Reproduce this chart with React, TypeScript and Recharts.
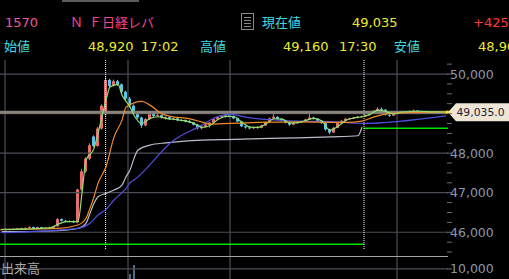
import React from 'react';
import { ComposedChart, Bar, Line, XAxis, YAxis, ReferenceLine } from 'recharts';

// one candle per slot: [open, high, low, close]
const ohlc: [number, number, number, number][] = [
  [46060, 46090, 46040, 46075], [46075, 46095, 46050, 46060], [46060, 46085, 46045, 46080], [46080, 46100, 46060, 46070],
  [46070, 46110, 46060, 46100], [46100, 46115, 46070, 46080], [46080, 46120, 46070, 46110], [46110, 46150, 46100, 46135],
  [46135, 46140, 46090, 46100], [46100, 46140, 46090, 46130], [46130, 46135, 46080, 46095], [46095, 46130, 46085, 46120],
  [46120, 46140, 46100, 46110], [46110, 46160, 46100, 46150], [46150, 46360, 46140, 46330], [46330, 46350, 46270, 46290],
  [46290, 46310, 46250, 46270], [46270, 46300, 46250, 46285], [46285, 46300, 46240, 46250], [46250, 47100, 46230, 47080],
  [47080, 47600, 47050, 47540], [47540, 47900, 47500, 47860], [47860, 48250, 47820, 48200], [48420, 48450, 48150, 48180],
  [48180, 48660, 48160, 48620], [48620, 49230, 48600, 49200], [48980, 49920, 48950, 49850], [49850, 49880, 49660, 49700],
  [49700, 49860, 49690, 49820], [49820, 49850, 49700, 49740], [49740, 49760, 49520, 49550], [49550, 49580, 49340, 49380],
  [49380, 49420, 49150, 49200], [49200, 49230, 48980, 49020], [49020, 49060, 48860, 48900], [48900, 48920, 48640, 48700],
  [48700, 48890, 48680, 48860], [48860, 49010, 48840, 48990], [48990, 49000, 48900, 48940], [48940, 48990, 48910, 48960],
  [48960, 48970, 48880, 48900], [48900, 48930, 48850, 48910], [48910, 48920, 48840, 48860], [48860, 48900, 48830, 48880],
  [48880, 48890, 48810, 48830], [48830, 48860, 48800, 48840], [48840, 48850, 48780, 48800], [48800, 48830, 48760, 48780],
  [48780, 48790, 48700, 48720], [48720, 48740, 48600, 48630], [48630, 48690, 48600, 48670], [48670, 48740, 48650, 48720],
  [48720, 48790, 48650, 48770], [48770, 48880, 48750, 48860], [48860, 48930, 48840, 48910], [48910, 48960, 48890, 48930],
  [48930, 48990, 48900, 48960], [48960, 48990, 48920, 48940], [48940, 48950, 48860, 48880], [48880, 48900, 48780, 48800],
  [48800, 48820, 48660, 48680], [48680, 48700, 48620, 48650], [48650, 48680, 48600, 48630], [48630, 48670, 48610, 48660],
  [48660, 48680, 48620, 48640], [48640, 48720, 48630, 48700], [48700, 48800, 48690, 48790], [48790, 48900, 48780, 48880],
  [48880, 49020, 48860, 48920], [48920, 48930, 48850, 48870], [48870, 48880, 48800, 48820], [48820, 48840, 48750, 48770],
  [48770, 48780, 48690, 48720], [48720, 48780, 48710, 48760], [48760, 48800, 48740, 48790], [48790, 48820, 48760, 48800],
  [48800, 48870, 48790, 48850], [48850, 48990, 48840, 48900], [48900, 48920, 48850, 48870], [48870, 48880, 48800, 48820],
  [48820, 48830, 48740, 48760], [48760, 48770, 48570, 48600], [48600, 48620, 48480, 48520], [48520, 48660, 48510, 48640],
  [48640, 48770, 48630, 48760], [48760, 48840, 48740, 48820], [48820, 48890, 48800, 48870], [48870, 48900, 48850, 48880],
  [48880, 48920, 48860, 48900], [48900, 48940, 48880, 48920], [48920, 48950, 48900, 48930], [48930, 48980, 48910, 48960],
  [48960, 49020, 48950, 49000], [49000, 49090, 48990, 49070], [49070, 49160, 49050, 49120], [49120, 49150, 49080, 49100],
  [49100, 49110, 48950, 48970], [48970, 48990, 48920, 48950], [48950, 49020, 48940, 49010], [49010, 49060, 49000, 49040],
  [49040, 49070, 49020, 49050], [49050, 49060, 49020, 49040], [49040, 49080, 49030, 49060], [49060, 49100, 49050, 49080],
  [49080, 49090, 49040, 49060], [49060, 49070, 49030, 49040], [49040, 49070, 49030, 49050], [49050, 49060, 49030, 49040],
  [49040, 49060, 49030, 49045], [49045, 49050, 49020, 49030], [49030, 49050, 49020, 49040], [49040, 49050, 49025, 49035],
];

// moving averages, [slot, value]
const fastMa: [number, number][] = [
  [0, 46070], [6, 46080], [12, 46110], [14, 46200], [16, 46270], [19, 46270], [20, 46990], [21, 47820],
  [23, 48120], [24, 48500], [26, 49340], [27, 49670], [29, 49740], [30, 49470], [32, 49170], [33, 48960],
  [35, 48750], [37, 48880], [39, 48920], [41, 48880], [44, 48840], [47, 48790], [49, 48700], [50, 48650],
  [52, 48700], [54, 48850], [56, 48930], [58, 48920], [60, 48780], [62, 48660], [64, 48650], [66, 48740],
  [68, 48870], [70, 48860], [72, 48760], [74, 48770], [76, 48830], [78, 48880], [80, 48810], [82, 48580],
  [84, 48680], [86, 48830], [88, 48890], [90, 48920], [92, 48980], [94, 49090], [96, 49050], [98, 48990],
  [100, 49040], [104, 49060], [108, 49045], [111, 49040],
];
const midMa: [number, number][] = [
  [0, 46075], [14, 46100], [19, 46184], [21, 46353], [22, 46605], [23, 46898], [24, 47237], [26, 47656],
  [28, 48406], [30, 48835], [31, 49163], [35, 49307], [37, 49214], [40, 48994], [42, 48928], [47, 48868],
  [50, 48785], [52, 48734], [57, 48752], [64, 48777], [74, 48792], [86, 48777], [90, 48810], [93, 48918],
  [97, 49004], [102, 49029], [111, 49037],
];
const slowMa: [number, number][] = [
  [0, 45990], [19, 46100], [22, 46227], [24, 46436], [26, 46580], [28, 46815], [31, 47110], [32, 47252],
  [33, 47320], [43, 48330], [50, 48709], [53, 48886], [57, 48979], [62, 48890], [74, 48810], [82, 48797],
  [90, 48752], [111, 48944],
];
const vwap: [number, number][] = [
  [0, 46015], [12, 46032], [19, 46100], [21, 46227], [22, 46480], [23, 46732], [24, 46898], [26, 46984],
  [28, 47067], [30, 47193], [31, 47403], [32, 47572], [33, 47868], [34, 48078], [37, 48204], [41, 48262],
  [50, 48330], [58, 48348], [67, 48373], [74, 48388], [82, 48413], [89, 48440], [90, 48660],
];

const volumes: [number, number][] = [[32, 7000], [33, 12300]];

const priceTicks = [
  45500, 45750, 46000, 46250, 46500, 46750, 47000, 47250, 47500, 47750,
  48000, 48250, 48500, 48750, 49000, 49250, 49500, 49750, 50000, 50250,
];
const gridPrices = [46000, 47000, 48000, 49000, 50000];
const volumeTicks = [10000];

// time markers in slot units
const timeGrid = [0.75, 31.5, 57, 98.75];
const sessionBreaks = [25.9, 90.5];
const prevSessionLow = 45700;
const nightLow = 48630;

const openPrice = 48920;
const highPrice = 49160;
const lowPrice = 48900;
const prevClose = 48610;

const FONT = '"DejaVu Sans", "Noto Sans CJK JP", sans-serif';
const GRID = '#4d4d58';
const UP = '#e86c6e';
const DOWN = '#5cc6ea';
const PLOT_RIGHT = 448;
const X_DOMAIN: [number, number] = [-0.5, 111.5];

type Row = {
  i: number; open: number; close: number; range: [number, number];
  fast?: number; mid?: number; slow?: number; vwap?: number;
};
const rows: Row[] = ohlc.map(([open, high, low, close], i) => ({ i, open, close, range: [low, high] }));
const place = (pts: [number, number][], key: 'fast' | 'mid' | 'slow' | 'vwap') =>
  pts.forEach(([i, v]) => { rows[i][key] = v; });
place(fastMa, 'fast');
place(midMa, 'mid');
place(slowMa, 'slow');
place(vwap, 'vwap');

const volRows = volumes.map(([i, v]) => ({ i, v }));
const lastClose = ohlc[ohlc.length - 1][3];
const fmt = (v: number) => v.toLocaleString('en-US');

const Candle = (props: any) => {
  const { x, y, width, height, payload } = props;
  const [lo, hi] = payload.range;
  const top = Math.min(y, y + height);
  const h = Math.abs(height);
  const span = hi - lo || 1;
  const toY = (v: number) => top + ((hi - v) / span) * h;
  const color = payload.close >= payload.open ? UP : DOWN;
  const bTop = toY(Math.max(payload.open, payload.close));
  const bBot = toY(Math.min(payload.open, payload.close));
  const cx = x + width / 2;
  return (
    <g>
      <line x1={cx} x2={cx} y1={top} y2={top + h} stroke={color} strokeWidth={1} />
      <rect x={x} y={bTop} width={width} height={Math.max(1, bBot - bTop)} fill={color} />
    </g>
  );
};

const PriceTick = (props: any) => {
  const { y, payload } = props;
  const v = payload.value as number;
  const major = v % 1000 === 0 && v !== 49000;
  return (
    <g>
      <line x1={PLOT_RIGHT - 1} x2={PLOT_RIGHT + 4} y1={y} y2={y} stroke="#6e6e7a" />
      {major && (
        <text x={PLOT_RIGHT + 2} y={y + 4.5} fill="#8a99ad" fontSize={12.5} fontFamily={FONT}>
          {fmt(v)}
        </text>
      )}
    </g>
  );
};

// last-price tag hanging off the right edge of the plot
const PriceTag = (props: any) => {
  const vb = props.viewBox;
  const xr = vb.x + vb.width;
  const y = vb.y;
  return (
    <g>
      <path d={`M${xr},${y} L${xr + 8},${y - 9} L509,${y - 9} L509,${y + 9} L${xr + 8},${y + 9} Z`} fill="#efe5d4" />
      <rect x={xr - 2} y={y - 1.5} width={3} height={3} fill="#ffe020" />
      <text x={xr + 8.5} y={y + 4} fontSize={10.8} fill="#1c1c3c" fontFamily={FONT}>
        {lastClose.toLocaleString('en-US', { minimumFractionDigits: 1 })}
      </text>
    </g>
  );
};

const Header = () => {
  const change = lastClose - prevClose;
  return (
    <svg width={509} height={60} style={{ position: 'absolute', left: 0, top: 0, fontFamily: FONT }} fontSize={13}>
      <rect x={62} y={0} width={77} height={2} fill="#5c5c5c" />
      <text x={5} y={26.5} fill="#ec5a9c">1570</text>
      <text x={70} y={26.5} fill="#f2449b">Ｎ</text>
      <text x={89} y={26.5} fill="#f2449b">Ｆ日経レバ</text>
      <rect x={241.5} y={13.5} width={12} height={16} fill="none" stroke="#8a8a8a" />
      {[17.5, 20.5, 23.5, 26.5].map((ly) => (
        <line key={ly} x1={244} x2={251} y1={ly} y2={ly} stroke="#8a8a8a" />
      ))}
      <text x={262} y={26.5} fill="#3fd8e2">現在値</text>
      <text x={352} y={26.5} fill="#ecec2c">{fmt(lastClose)}</text>
      <text x={473} y={26.5} fill="#ff3a3a">{(change >= 0 ? '+' : '') + fmt(change)}</text>
      <text x={4} y={51} fill="#3fd8e2">始値</text>
      <text x={88} y={51} fill="#ecec2c">{fmt(openPrice)}</text>
      <text x={141} y={51} fill="#ecec2c">17:02</text>
      <text x={200} y={51} fill="#3fd8e2">高値</text>
      <text x={283} y={51} fill="#ecec2c">{fmt(highPrice)}</text>
      <text x={339} y={51} fill="#ecec2c">17:30</text>
      <text x={394} y={51} fill="#3fd8e2">安値</text>
      <text x={478} y={51} fill="#ecec2c">{fmt(lowPrice)}</text>
    </svg>
  );
};

export default function App() {
  return (
    <div style={{ position: 'fixed', left: 0, top: 0, width: 509, height: 279, background: '#000', overflow: 'hidden' }}>
      <Header />
      <div style={{ position: 'absolute', left: 0, top: 60 }}>
        <ComposedChart width={509} height={196} data={rows} margin={{ top: 0, right: 0, bottom: 0, left: 0 }}>
          <XAxis type="number" dataKey="i" domain={X_DOMAIN} hide allowDataOverflow />
          <YAxis
            orientation="right"
            domain={[45400, 50355]}
            ticks={priceTicks}
            interval={0}
            width={61}
            axisLine={false}
            tickLine={false}
            tickSize={0}
            tickMargin={0}
            tick={<PriceTick />}
            allowDataOverflow
          />
          {gridPrices.map((p) => (
            <ReferenceLine key={p} y={p} stroke={GRID} strokeWidth={1.2} />
          ))}
          {timeGrid.map((t) => (
            <ReferenceLine key={t} x={t} stroke={GRID} strokeWidth={1.2} />
          ))}
          <ReferenceLine segment={[{ x: X_DOMAIN[0], y: prevSessionLow }, { x: sessionBreaks[1], y: prevSessionLow }]} stroke="#00e600" strokeWidth={1.5} />
          <ReferenceLine segment={[{ x: sessionBreaks[1], y: nightLow }, { x: X_DOMAIN[1], y: nightLow }]} stroke="#00e600" strokeWidth={1.5} />
          {sessionBreaks.map((t) => (
            <ReferenceLine key={t} segment={[{ x: t, y: 50355 }, { x: t, y: 45550 }]} stroke="#ffffff" strokeDasharray="1 1" />
          ))}
          <ReferenceLine y={lastClose} stroke="#8a847c" strokeWidth={3} label={(p: any) => <PriceTag {...p} />} />
          <Bar dataKey="range" barSize={3} shape={<Candle />} isAnimationActive={false} />
          <Line dataKey="vwap" type="monotone" stroke="#b9bdc8" strokeWidth={1.2} dot={false} activeDot={false} connectNulls isAnimationActive={false} />
          <Line dataKey="slow" type="monotone" stroke="#4e4edc" strokeWidth={1.2} dot={false} activeDot={false} connectNulls isAnimationActive={false} />
          <Line dataKey="mid" type="monotone" stroke="#f08a26" strokeWidth={1.2} dot={false} activeDot={false} connectNulls isAnimationActive={false} />
          <Line dataKey="fast" type="monotone" stroke="#8ee06c" strokeWidth={1.2} dot={false} activeDot={false} connectNulls isAnimationActive={false} />
        </ComposedChart>
      </div>
      <div style={{ position: 'absolute', left: 0, top: 256, width: PLOT_RIGHT, height: 1, background: '#a4a4a4' }} />
      <div style={{ position: 'absolute', left: 0, top: 257 }}>
        <ComposedChart width={509} height={29} data={volRows} margin={{ top: 0, right: 0, bottom: 0, left: 0 }}>
          <XAxis type="number" dataKey="i" domain={X_DOMAIN} hide allowDataOverflow />
          <YAxis
            orientation="right"
            domain={[0, 17000]}
            ticks={volumeTicks}
            interval={0}
            width={61}
            axisLine={false}
            tickLine={false}
            tickSize={0}
            tickMargin={0}
            tick={(p: any) => (
              <g>
                <line x1={PLOT_RIGHT - 1} x2={PLOT_RIGHT + 4} y1={p.y} y2={p.y} stroke="#6e6e7a" />
                <text x={PLOT_RIGHT + 2} y={p.y + 4.5} fill="#8a99ad" fontSize={12.5} fontFamily={FONT}>
                  {fmt(p.payload.value)}
                </text>
              </g>
            )}
            allowDataOverflow
          />
          <ReferenceLine y={volumeTicks[0]} stroke={GRID} strokeWidth={1.2} />
          {timeGrid.map((t) => (
            <ReferenceLine key={t} x={t} stroke={GRID} strokeWidth={1.2} />
          ))}
          <Bar dataKey="v" barSize={2} fill="#4e6a88" isAnimationActive={false} />
        </ComposedChart>
      </div>
      <div style={{ position: 'absolute', left: 1, top: 262, fontFamily: FONT, fontSize: 13, lineHeight: '14px', color: '#a9a9a9' }}>
        出来高
      </div>
    </div>
  );
}
